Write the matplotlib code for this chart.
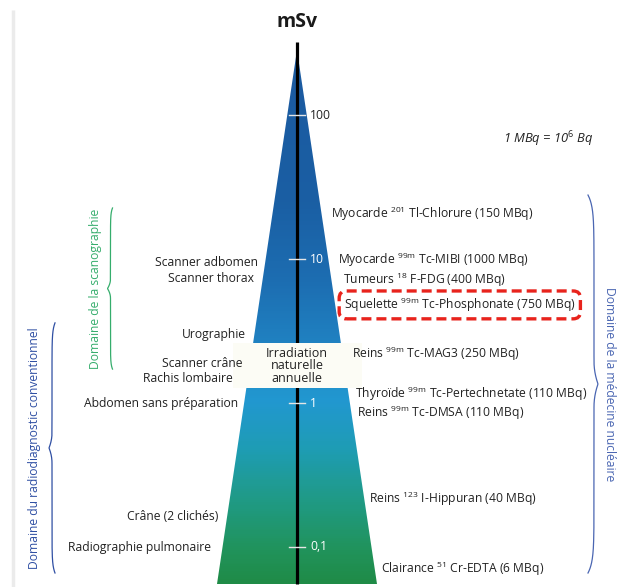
import numpy as np
import matplotlib
matplotlib.use("Agg")
import matplotlib.pyplot as plt
from matplotlib.colors import LinearSegmentedColormap
from matplotlib.patches import Polygon, Rectangle

plt.rcParams['font.family'] = ['Open Sans', 'DejaVu Sans']
plt.rcParams['font.weight'] = 500
plt.rcParams['mathtext.fontset'] = 'custom'
plt.rcParams['mathtext.rm'] = 'Open Sans:medium'
plt.rcParams['mathtext.it'] = 'Open Sans:italic'

# dose scale (mSv)
TICKS = [100, 10, 1, 0.1]
TICK_LABELS = ["100", "10", "1", "0,1"]

# conventional radiology + CT exams (left side), dose in mSv
LEFT_LABELS = ["Scanner adbomen", "Scanner thorax", "Urographie", "Scanner crâne",
               "Rachis lombaire", "Abdomen sans préparation", "Crâne (2 clichés)",
               "Radiographie pulmonaire"]
LEFT_DOSE = [9.5, 7.3, 3.0, 1.87, 1.47, 1.0, 0.164, 0.10]

# nuclear medicine exams (right side), dose in mSv
RIGHT_LABELS = [r"Myocarde $^{\mathrm{201}}$ Tl-Chlorure (150 MBq)",
                r"Myocarde $^{\mathrm{99m}}$ Tc-MIBI (1000 MBq)",
                r"Tumeurs $^{\mathrm{18}}$ F-FDG (400 MBq)",
                r"Squelette $^{\mathrm{99m}}$ Tc-Phosphonate (750 MBq)",
                r"Reins $^{\mathrm{99m}}$ Tc-MAG3 (250 MBq)",
                r"Thyroïde $^{\mathrm{99m}}$ Tc-Pertechnetate (110 MBq)",
                r"Reins $^{\mathrm{99m}}$ Tc-DMSA (110 MBq)",
                r"Reins $^{\mathrm{123}}$ I-Hippuran (40 MBq)",
                r"Clairance $^{\mathrm{51}}$ Cr-EDTA (6 MBq)"]
RIGHT_DOSE = [20.5, 9.9, 7.2, 4.8, 2.2, 1.16, 0.86, 0.215, 0.071]
HIGHLIGHT = 3

# annual natural irradiation band (mSv)
NATURAL = (1.27, 2.61)

# domains (mSv ranges)
DOM_SCANO = (1.72, 22.6)
DOM_RADIO = (0.066, 3.6)
DOM_NUCL = (0.066, 27.8)

# layout (pixels)
W, H = 632, 587
PX_DEC, PX_ONE = 144.0, 403.0   # pixels per decade, pixel row of 1 mSv
AX_X = 297
LEFT_X = [258, 254, 246, 243, 233, 238, 218, 211]
RIGHT_X = [331, 338, 343, 344, 352, 355, 357, 369, 381]
TXT = "#222222"
FS = 8.7


def v(py):
    # pixel row -> mSv
    return 10 ** ((PX_ONE - py) / PX_DEC)


fig = plt.figure(figsize=(W / 100, H / 100), dpi=100)
ax = fig.add_axes([0, 0, 1, 1])
ax.set_yscale("log")
ax.set_xlim(0, W)
ax.set_ylim(v(H), v(0))
ax.axis("off")

# page border on the left
ax.plot([13, 13], [v(10), v(H)], color="#ebebeb", lw=2.5, solid_capstyle="butt")

# gradient triangle
apex, base, half = v(50), v(584), 80
tri = Polygon([[AX_X, apex], [AX_X - half, base], [AX_X + half, base]],
              closed=True, fc="none", ec="none")
ax.add_patch(tri)
cmap = LinearSegmentedColormap.from_list("dose", [
    (0.0, "#1f8b47"), (0.064, "#20935c"), (0.157, "#1f9a86"), (0.251, "#1e9cb4"),
    (0.345, "#2197d0"), (0.457, "#1f80c0"), (0.569, "#1c6db1"), (0.719, "#1a5ea3"),
    (1.0, "#1b5aa0")])
ys = np.geomspace(base, apex, 300)
X = np.tile([AX_X - half, AX_X + half], (len(ys), 1))
Y = np.repeat(ys[:, None], 2, axis=1)
C = np.linspace(0, 1, len(ys) - 1)[:, None]
mesh = ax.pcolormesh(X, Y, C, cmap=cmap, shading="flat", zorder=1)
mesh.set_clip_path(tri)

# axis line + ticks
ax.plot([AX_X, AX_X], [v(42), base], color="black", lw=2.3, zorder=3, solid_capstyle="butt")
for t, lab in zip(TICKS, TICK_LABELS):
    ax.plot([AX_X - 8, AX_X + 8], [t, t], color="#e6e6e6", lw=1.0, zorder=4)
    ax.text(AX_X + 13, t, lab, color=TXT if t >= 100 else "white",
            fontsize=FS, va="center", ha="left", zorder=5)
ax.text(AX_X, v(22), "mSv", fontsize=14, fontweight="bold", color="#1a1a1a",
        ha="center", va="center")

# natural irradiation box
ax.add_patch(Rectangle((233, NATURAL[0]), 129, NATURAL[1] - NATURAL[0],
                       fc="#fcfcf5", ec="none", zorder=6))
ax.text(AX_X, np.sqrt(NATURAL[0] * NATURAL[1]), "Irradiation\nnaturelle\nannuelle",
        fontsize=FS + 0.3, color=TXT, ha="center", va="center",
        linespacing=0.95, zorder=7)

for lab, d, x in zip(LEFT_LABELS, LEFT_DOSE, LEFT_X):
    ax.text(x, d, lab, fontsize=FS, color=TXT, ha="right", va="center", zorder=8)
for i, (lab, d, x) in enumerate(zip(RIGHT_LABELS, RIGHT_DOSE, RIGHT_X)):
    kw = {}
    if i == HIGHLIGHT:
        kw["bbox"] = dict(boxstyle="round,pad=0.4,rounding_size=0.6", fc="none",
                          ec="#e8231c", lw=2.4, ls=(0, (3, 1.5)))
    ax.text(x, d, lab, fontsize=FS, color=TXT, ha="left", va="center", zorder=8, **kw)

ax.text(548, v(139), r"1 MBq = 10$^{\mathit{6}}$ Bq", fontsize=FS + 0.6, style="italic",
        color=TXT, ha="center", va="center")


def brace(x0, lo, hi, curl, tip, color):
    # curly brace between doses lo..hi, ends bent by `curl`, middle point by `tip` (px)
    t = np.linspace(0, 1, 400)
    pylo, pyhi = PX_ONE - PX_DEC * np.log10(hi), PX_ONE - PX_DEC * np.log10(lo)
    py = pylo + t * (pyhi - pylo)
    x = (x0 + curl * (np.exp(-t / 0.03) + np.exp(-(1 - t) / 0.03))
         + tip * np.clip(1 - np.abs(t - 0.5) / 0.06, 0, 1) ** 2)
    ax.plot(x, v(py), color=color, lw=0.9)


GREEN, BLUE, BLUE2 = "#35ad6c", "#2f4fa3", "#4a66b2"
brace(110.5, *DOM_SCANO, 2, -3, GREEN)
brace(52, *DOM_RADIO, 3, -3, BLUE)
brace(594, *DOM_NUCL, -6, 4, BLUE2)
ax.text(95, np.sqrt(DOM_SCANO[0] * DOM_SCANO[1]), "Domaine de la scanographie",
        rotation=90, color=GREEN, fontsize=FS, ha="center", va="center")
ax.text(35, np.sqrt(DOM_RADIO[0] * DOM_RADIO[1]), "Domaine du radiodiagnostic conventionnel",
        rotation=90, color=BLUE, fontsize=FS, ha="center", va="center")
ax.text(610, np.sqrt(DOM_NUCL[0] * DOM_NUCL[1]), "Domaine de la médecine nucléaire",
        rotation=-90, color=BLUE2, fontsize=FS, ha="center", va="center")

fig.savefig("out.png", dpi=100)
